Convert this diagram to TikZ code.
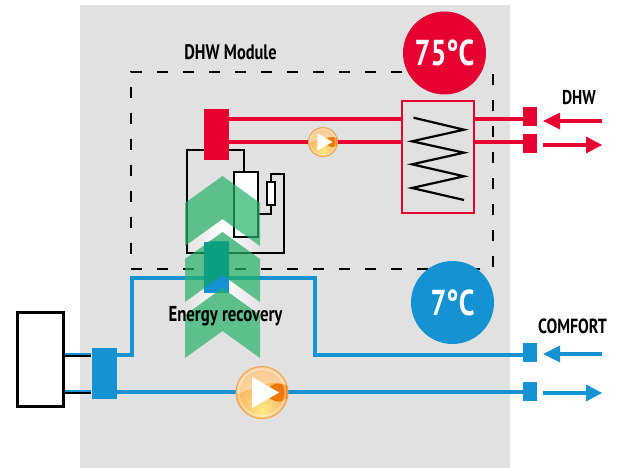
\documentclass[tikz,border=0pt]{standalone}
\usepackage{fontspec}
\setmainfont{PT Sans}
\newfontfamily\cond[FakeStretch=0.78]{PT Sans}
\definecolor{hotred}{RGB}{230,0,50}
\definecolor{coolblue}{RGB}{21,146,210}
\definecolor{panel}{RGB}{225,225,225}
\definecolor{chev}{RGB}{38,178,104}
\definecolor{tealmix}{RGB}{8,158,128}
\definecolor{pumpdark}{RGB}{238,120,5}
\definecolor{pumprim}{RGB}{240,165,80}
\definecolor{glowa}{RGB}{255,235,130}
\definecolor{glowb}{RGB}{253,205,120}
\definecolor{glowc}{RGB}{248,170,80}
\definecolor{glowd}{RGB}{240,145,40}
\pgfdeclareradialshading{pumpglow}{\pgfpoint{0bp}{-18bp}}{%
  color(0bp)=(glowa);
  color(12bp)=(glowb);
  color(30bp)=(glowc);
  color(50bp)=(glowd)}
\tikzset{
  wire/.style={line width=4pt},
  redwire/.style={wire,draw=hotred},
  bluewire/.style={wire,draw=coolblue},
  blackline/.style={draw=black,line width=2pt},
  pumpball/.style={circle,inner sep=0pt,outer sep=0pt,minimum size=#1,draw=pumprim,line width=1pt,
    shading=pumpglow,
    path picture={
      \path (path picture bounding box.center) coordinate (pc);
      \fill[pumpdark] ($(pc)+(.1*#1,.08*#1)$) .. controls ($(pc)+(.28*#1,.2*#1)$) .. ($(pc)+(.5*#1,.12*#1)$)
        -- ($(pc)+(.5*#1,-.1*#1)$) .. controls ($(pc)+(.32*#1,-.2*#1)$) .. ($(pc)+(.14*#1,-.11*#1)$) -- cycle;
      \fill[white,opacity=.38] ($(pc)+(-.55*#1,.55*#1)$) -- ($(pc)+(.55*#1,.55*#1)$) -- ($(pc)+(.55*#1,.14*#1)$)
        .. controls ($(pc)+(.15*#1,.22*#1)$) .. ($(pc)+(-.55*#1,-.06*#1)$) -- cycle;
      \fill[white] ($(pc)+(-.19*#1,.3*#1)$) -- ($(pc)+(.33*#1,0)$) -- ($(pc)+(-.19*#1,-.3*#1)$) -- cycle;
      \draw[white,opacity=.35,line width=.04*#1] (pc) circle (.45*#1);
    }},
  chevron/.style={fill=chev,opacity=.7,draw=none},
  label/.style={inner sep=0pt,text=black},
}
\usetikzlibrary{calc}
\begin{document}
\begin{tikzpicture}[x=1pt,y=-1pt]
\useasboundingbox (0,0) rectangle (622,468);
\fill[panel] (80,5) rectangle (510,468);
\node[draw=black,line width=2pt,dash pattern=on 11pt off 15pt,inner sep=0pt,minimum width=362pt,minimum height=197pt] (module) at (312,170.5) {};

% blue circuit
\node[fill=coolblue,minimum width=25pt,minimum height=51pt,inner sep=0pt] (core) at (104,373.5) {};
\node[fill=coolblue,minimum width=14pt,minimum height=19pt,inner sep=0pt] (bp1) at (530,352.5) {};
\node[fill=coolblue,minimum width=14pt,minimum height=19pt,inner sep=0pt] (bp2) at (530,391.5) {};
\node[fill=white,draw=black,line width=2.5pt,minimum width=46pt,minimum height=94pt,inner sep=0pt] (unit) at (40.5,359.5) {};
\coordinate (by1) at (0,354.5);
\coordinate (by2) at (0,392);
\draw[bluewire] (unit.east |- by1) -- (core.west |- by1);
\draw[bluewire] (unit.east |- by2) -- (core.west |- by2);
\draw[blackline] ($(unit.east |- by1)+(0,1)$) -- ($(core.west |- by1)+(0,1)$);
\draw[blackline] ($(unit.east |- by2)+(0,1)$) -- ($(core.west |- by2)+(0,1)$);
\coordinate (bt) at (132,278);
\coordinate (bu) at (315,278);
\draw[bluewire] (core.east |- by1) -| (bt) -- (bu) |- (bp1.west |- by1);
\draw[bluewire] (core.east |- by2) -- (bp2.west |- by2);

% red circuit
\node[draw=hotred,line width=2.8pt,minimum width=72pt,minimum height=112pt,inner sep=0pt,fill=panel] (hx) at (438,157) {};
\node[fill=hotred,minimum width=14pt,minimum height=19pt,inner sep=0pt] (rp1) at (530,116.5) {};
\node[fill=hotred,minimum width=14pt,minimum height=19pt,inner sep=0pt] (rp2) at (530,143.5) {};
\coordinate (ry1) at (0,119);
\coordinate (ry2) at (0,142);
\draw[black,line width=2.2pt] (413.5,117.7) -- (464,129.7) -- (412,141.3) -- (464,152.7) -- (412,164.3) -- (464,176.3) -- (412,188) -- (464,200);

% white glow between the chevrons
\foreach \d in {0,56}{
  \shade[left color=panel,right color=panel,middle color=white]
    (222.5,219+\d) -- (260,246+\d) -- (260,259+\d) -- (222.5,232+\d) -- (185,259+\d) -- (185,246+\d) -- cycle;
}

% black piping
\node[fill=white,draw=black,line width=2pt,minimum width=24pt,minimum height=65pt,inner sep=0pt] (tank) at (246,204.5) {};
\node[fill=white,draw=black,line width=2pt,minimum width=8.5pt,minimum height=23pt,inner sep=0pt] (res) at (271,193.5) {};
\coordinate (lt) at (187,150);
\coordinate (rt) at (244,150);
\coordinate (lb) at (187,253);
\coordinate (rb) at (284,253);
\coordinate (ru) at (284,174);
\coordinate (rv) at (271,214);
\draw[blackline] (tank.north -| rt) -- (rt) -- (lt) -- (lb) -- (rb) -- (ru) -| (res.north);
\draw[blackline] (res.south) -- (rv) -- (tank.east |- rv);
\node[fill=hotred,minimum width=25pt,minimum height=51pt,inner sep=0pt] (hot) at (216.5,134.5) {};
\draw[redwire] (hot.east |- ry1) -- (hx.west |- ry1);
\draw[redwire] (hot.east |- ry2) -- (hx.west |- ry2);
\draw[redwire] (hx.east |- ry1) -- (rp1.west |- ry1);
\draw[redwire] (hx.east |- ry2) -- (rp2.west |- ry2);
\node[fill=coolblue,minimum width=25pt,minimum height=51pt,inner sep=0pt] (cold) at (216.5,267.5) {};

% chevrons
\foreach \d in {0,56,112}{
  \fill[chevron] (222.5,176+\d) -- (260,203+\d) -- (260,246+\d) -- (222.5,219+\d) -- (185,246+\d) -- (185,203+\d) -- cycle;
}
\begin{scope}
  \clip (cold.north west) rectangle (cold.south east);
  \foreach \d in {0,56}{
    \fill[tealmix,opacity=.8] (222.5,176+\d) -- (260,203+\d) -- (260,246+\d) -- (222.5,219+\d) -- (185,246+\d) -- (185,203+\d) -- cycle;
  }
\end{scope}

% pumps
\node[pumpball=29pt] (pumpa) at (323,142) {};
\node[pumpball=52pt] (pumpb) at (262,392.5) {};

% flow arrows
\coordinate (a1s) at (602,121); \coordinate (a1e) at (543,121);
\coordinate (a2s) at (543,145); \coordinate (a2e) at (602,145);
\coordinate (a3s) at (602,354); \coordinate (a3e) at (543,354);
\coordinate (a4s) at (543,393); \coordinate (a4e) at (602,393);
\draw[redwire] (a1s) -- ($(a1e)+(10,0)$);
\fill[hotred] (a1e) -- ++(17,-8.5) -- ++(0,17) -- cycle;
\draw[redwire] (a2s) -- ($(a2e)+(-10,0)$);
\fill[hotred] (a2e) -- ++(-16,-8.5) -- ++(0,17) -- cycle;
\draw[bluewire] (a3s) -- ($(a3e)+(10,0)$);
\fill[coolblue] (a3e) -- ++(17,-8.5) -- ++(0,17) -- cycle;
\draw[bluewire] (a4s) -- ($(a4e)+(-10,0)$);
\fill[coolblue] (a4e) -- ++(-16,-8.5) -- ++(0,17) -- cycle;

% temperature badges
\node[circle,fill=hotred,minimum size=83pt,inner sep=0pt,text=white] (hotbadge) at (444.5,53) {\cond\bfseries\fontsize{36}{36}\selectfont 75°C};
\node[circle,fill=coolblue,minimum size=83pt,inner sep=0pt,text=white] (coldbadge) at (452.5,302.5) {\cond\bfseries\fontsize{36}{36}\selectfont 7°C};

% labels
\node[label,font=\cond\bfseries\fontsize{21}{21}\selectfont] (modlabel) at (230.5,52) {DHW Module};
\node[label,font=\cond\bfseries\fontsize{21.5}{21.5}\selectfont] (ener) at (225.5,316) {Energy recovery};
\node[label,font=\cond\bfseries\fontsize{20}{20}\selectfont] (dhw) at (579,98) {DHW};
\node[label,font=\cond\bfseries\fontsize{20.5}{20.5}\selectfont] (comf) at (572.5,326) {COMFORT};
\end{tikzpicture}
\end{document}
